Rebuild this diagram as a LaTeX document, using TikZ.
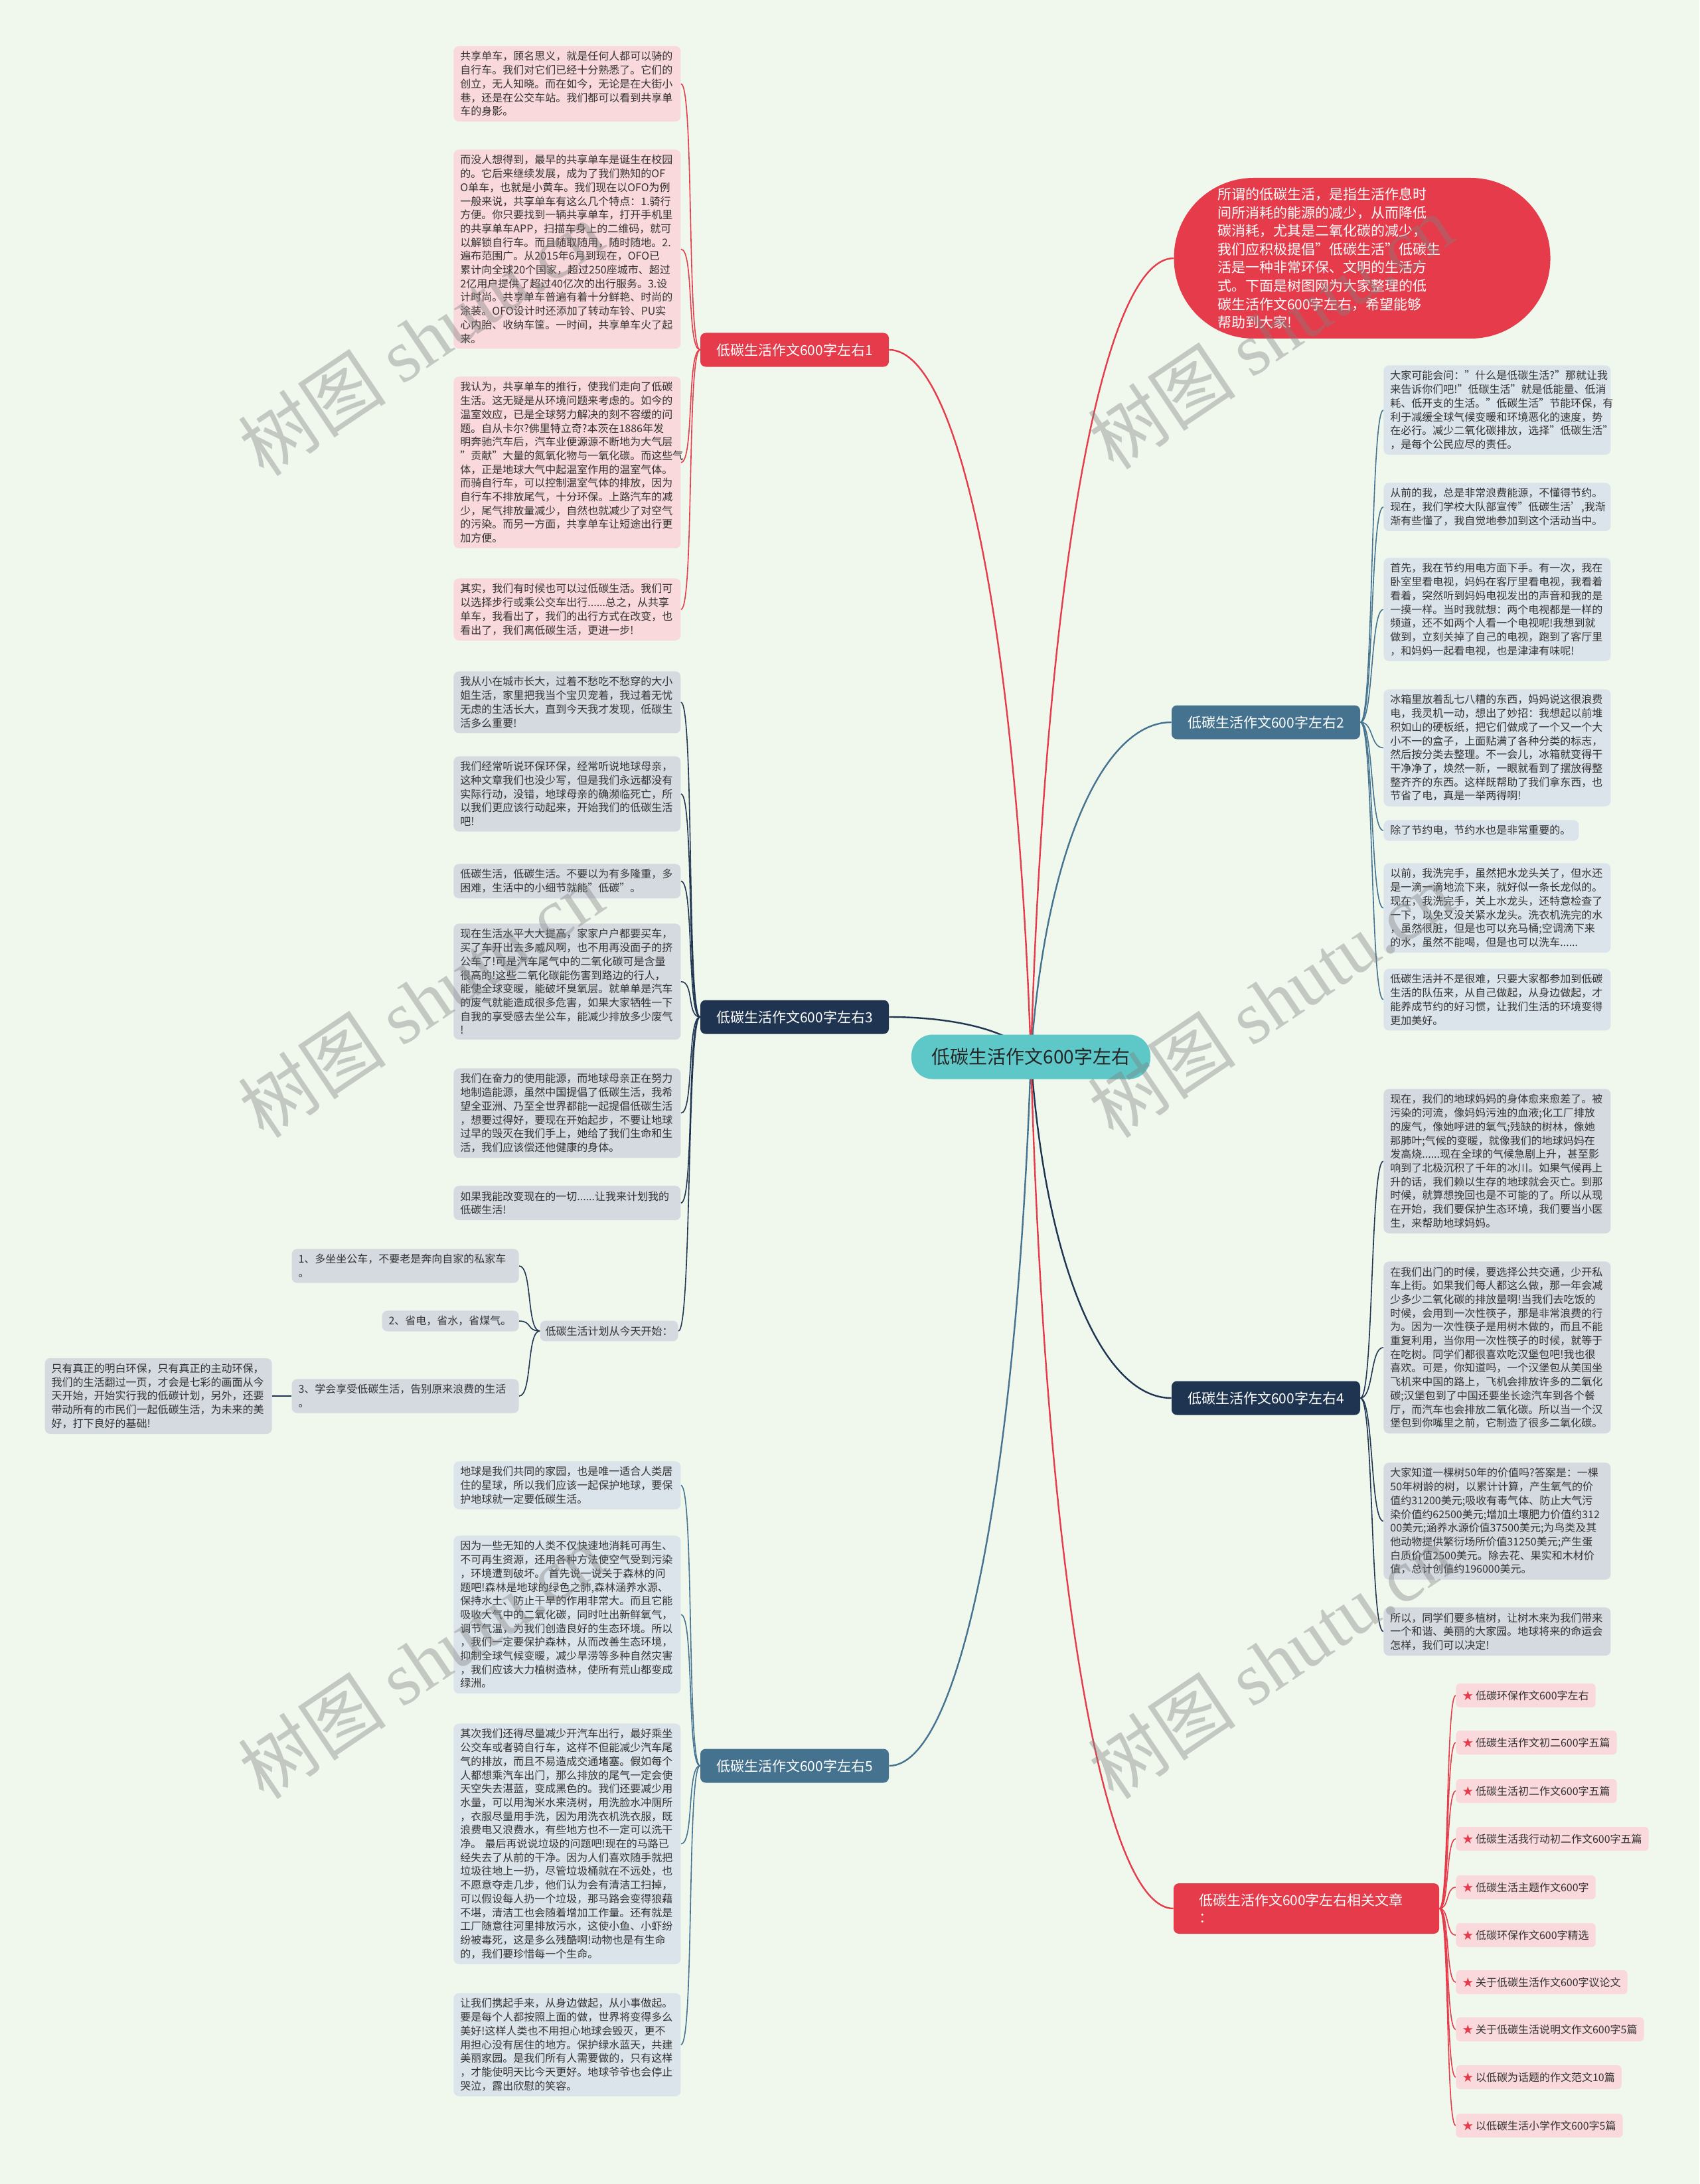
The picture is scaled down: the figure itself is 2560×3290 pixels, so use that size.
\documentclass[tikz,border=0pt]{standalone}
\usepackage{fontspec}
\setmainfont{Noto Sans CJK SC}
\newfontfamily\wmlatin{Liberation Serif}
\usetikzlibrary{calc,positioning}
\definecolor{mapbg}{HTML}{F0F8EE}
\definecolor{mapred}{HTML}{E63B4A}
\definecolor{mapnavy}{HTML}{1E3450}
\definecolor{mapsteel}{HTML}{44728F}
\definecolor{mapteal}{HTML}{5EC7C7}
\definecolor{boxpink}{HTML}{F9D9DC}
\definecolor{boxgray}{HTML}{D5DAE1}
\definecolor{boxblue}{HTML}{DCE4EB}
\definecolor{boxtext}{HTML}{333333}
\pgfdeclarelayer{under}
\pgfsetlayers{under,main}
\tikzset{
  leaf/.style={rounded corners=4pt, inner xsep=5pt, inner ysep=4pt,
    text width=161pt, align=left, text=boxtext,
    font=\fontsize{8}{10.35}\selectfont},
  leafpink/.style={leaf, fill=boxpink},
  leafgray/.style={leaf, fill=boxgray},
  leafblue/.style={leaf, fill=boxblue},
  branchnode/.style={rounded corners=4pt, minimum width=142pt,
    minimum height=25.5pt, text=white, font=\fontsize{10.5}{13}\selectfont},
  relnode/.style={rounded corners=3pt, fill=boxpink, text=boxtext,
    inner xsep=5pt, minimum height=18pt, anchor=west,
    font=\fontsize{8}{10}\selectfont},
  mainline/.style={line width=1.2pt},
  subline/.style={line width=0.8pt},
  wmark/.style={rotate=34, text=gray, text opacity=0.4,
    font=\fontsize{56}{56}\selectfont},
}
\newcommand{\rootlink}[3]{%
  \draw[#1] let \p1=(#2), \p2=(#3) in
    (\p1) .. controls ({\x1+0.1*(\x2-\x1)},{\y1+0.6*(\y2-\y1)})
    and ({\x2+0.5*(\x1-\x2)},\y2) .. (\p2);}
\newcommand{\redstar}{{\color{mapred}★}\ }

\begin{document}
\begin{tikzpicture}[x=0.5pt, y=-0.5pt]
\useasboundingbox (0,0) rectangle (2560,3290);

% centre and intro
\node[fill=mapteal, rounded corners=16pt, minimum width=180pt, minimum height=33.5pt,
  text=black!85, font=\fontsize{14}{16}\selectfont] (root) at (1553,1592) {低碳生活作文600字左右};
\node[fill=mapred, rounded corners=60pt, minimum width=283.5pt, minimum height=121pt,
  text=white, text width=218pt, align=left, font=\fontsize{10.5}{13.8}\selectfont] (intro) at (2052,389)
  {所谓的低碳生活，是指生活作息时\\间所消耗的能源的减少，从而降低\\碳消耗，尤其是二氧化碳的减少，\\我们应积极提倡"低碳生活"低碳生\\活是一种非常环保、文明的生活方\\式。下面是树图网为大家整理的低\\碳生活作文600字左右，希望能够\\帮助到大家!};

% branches
\node[branchnode, fill=mapred] (b1) at (1197,527) {低碳生活作文600字左右1};
\node[branchnode, fill=mapsteel] (b2) at (1907,1088) {低碳生活作文600字左右2};
\node[branchnode, fill=mapnavy] (b3) at (1197,1532) {低碳生活作文600字左右3};
\node[branchnode, fill=mapnavy] (b4) at (1907,2106) {低碳生活作文600字左右4};
\node[branchnode, fill=mapsteel] (b5) at (1197,2660) {低碳生活作文600字左右5};
\node[branchnode, fill=mapred, text width=162pt, inner xsep=19pt, align=left,
  minimum height=38pt] (b6) at (1968,2875) {低碳生活作文600字左右相关文章\\：};

% branch 1
\node[leafpink, anchor=north west] (c11) at (683,69) {共享单车，顾名思义，就是任何人都可以骑的\\自行车。我们对它们已经十分熟悉了。它们的\\创立，无人知晓。而在如今，无论是在大街小\\巷，还是在公交车站。我们都可以看到共享单\\车的身影。};
\node[leafpink, anchor=north west] (c12) at (683,225) {而没人想得到，最早的共享单车是诞生在校园\\的。它后来继续发展，成为了我们熟知的OF\\O单车，也就是小黄车。我们现在以OFO为例\\一般来说，共享单车有这么几个特点：1.骑行\\方便。你只要找到一辆共享单车，打开手机里\\的共享单车APP，扫描车身上的二维码，就可\\以解锁自行车。而且随取随用，随时随地。2.\\遍布范围广。从2015年6月到现在，OFO已\\累计向全球20个国家，超过250座城市、超过\\2亿用户提供了超过40亿次的出行服务。3.设\\计时尚。共享单车普遍有着十分鲜艳、时尚的\\涂装。OFO设计时还添加了转动车铃、PU实\\心内胎、收纳车筐。一时间，共享单车火了起\\来。};
\node[leafpink, anchor=north west] (c13) at (683,567) {我认为，共享单车的推行，使我们走向了低碳\\生活。这无疑是从环境问题来考虑的。如今的\\温室效应，已是全球努力解决的刻不容缓的问\\题。自从卡尔?佛里特立奇?本茨在1886年发\\明奔驰汽车后，汽车业便源源不断地为大气层\\"贡献"大量的氮氧化物与一氧化碳。而这些气\\体，正是地球大气中起温室作用的温室气体。\\而骑自行车，可以控制温室气体的排放，因为\\自行车不排放尾气，十分环保。上路汽车的减\\少，尾气排放量减少，自然也就减少了对空气\\的污染。而另一方面，共享单车让短途出行更\\加方便。};
\node[leafpink, anchor=north west] (c14) at (683,871) {其实，我们有时候也可以过低碳生活。我们可\\以选择步行或乘公交车出行......总之，从共享\\单车，我看出了，我们的出行方式在改变，也\\看出了，我们离低碳生活，更进一步!};

% branch 3
\node[leafgray, anchor=north west] (c31) at (683,1011) {我从小在城市长大，过着不愁吃不愁穿的大小\\姐生活，家里把我当个宝贝宠着，我过着无忧\\无虑的生活长大，直到今天我才发现，低碳生\\活多么重要!};
\node[leafgray, anchor=north west] (c32) at (683,1139) {我们经常听说环保环保，经常听说地球母亲，\\这种文章我们也没少写，但是我们永远都没有\\实际行动，没错，地球母亲的确濒临死亡，所\\以我们更应该行动起来，开始我们的低碳生活\\吧!};
\node[leafgray, anchor=north west] (c33) at (683,1301) {低碳生活，低碳生活。不要以为有多隆重，多\\困难，生活中的小细节就能"低碳"。};
\node[leafgray, anchor=north west] (c34) at (683,1391) {现在生活水平大大提高，家家户户都要买车，\\买了车开出去多威风啊，也不用再没面子的挤\\公车了!可是汽车尾气中的二氧化碳可是含量\\很高的!这些二氧化碳能伤害到路边的行人，\\能使全球变暖，能破坏臭氧层。就单单是汽车\\的废气就能造成很多危害，如果大家牺牲一下\\自我的享受感去坐公车，能减少排放多少废气\\!};
\node[leafgray, anchor=north west] (c35) at (683,1609) {我们在奋力的使用能源，而地球母亲正在努力\\地制造能源，虽然中国提倡了低碳生活，我希\\望全亚洲、乃至全世界都能一起提倡低碳生活\\，想要过得好，要现在开始起步，不要让地球\\过早的毁灭在我们手上，她给了我们生命和生\\活，我们应该偿还他健康的身体。};
\node[leafgray, anchor=north west] (c36) at (683,1786) {如果我能改变现在的一切......让我来计划我的\\低碳生活!};
\node[leafgray, text width=96pt, inner xsep=4pt, anchor=east] (plan) at (1022,2005) {低碳生活计划从今天开始：};
\node[leafgray, anchor=east] (p1) at (782,1907) {1、多坐坐公车，不要老是奔向自家的私家车\\。};
\node[leafgray, text width=93pt, anchor=east] (p2) at (782,1990) {2、省电，省水，省煤气。};
\node[leafgray, anchor=east] (p3) at (782,2103) {3、学会享受低碳生活，告别原来浪费的生活\\。};
\node[leafgray, anchor=east] (tip) at (410,2103) {只有真正的明白环保，只有真正的主动环保，\\我们的生活翻过一页，才会是七彩的画面从今\\天开始，开始实行我的低碳计划，另外，还要\\带动所有的市民们一起低碳生活，为未来的美\\好，打下良好的基础!};

% branch 5
\node[leafblue, anchor=north west] (c51) at (683,2201) {地球是我们共同的家园，也是唯一适合人类居\\住的星球，所以我们应该一起保护地球，要保\\护地球就一定要低碳生活。};
\node[leafblue, anchor=north west] (c52) at (683,2313) {因为一些无知的人类不仅快速地消耗可再生、\\不可再生资源，还用各种方法使空气受到污染\\，环境遭到破坏。 首先说一说关于森林的问\\题吧!森林是地球的绿色之肺,森林涵养水源、\\保持水土、防止干旱的作用非常大。而且它能\\吸收大气中的二氧化碳，同时吐出新鲜氧气，\\调节气温，为我们创造良好的生态环境。所以\\，我们一定要保护森林，从而改善生态环境，\\抑制全球气候变暖，减少旱涝等多种自然灾害\\，我们应该大力植树造林，使所有荒山都变成\\绿洲。};
\node[leafblue, anchor=north west] (c53) at (683,2596) {其次我们还得尽量减少开汽车出行，最好乘坐\\公交车或者骑自行车，这样不但能减少汽车尾\\气的排放，而且不易造成交通堵塞。假如每个\\人都想乘汽车出门，那么排放的尾气一定会使\\天空失去湛蓝，变成黑色的。我们还要减少用\\水量，可以用淘米水来浇树，用洗脸水冲厕所\\，衣服尽量用手洗，因为用洗衣机洗衣服，既\\浪费电又浪费水，有些地方也不一定可以洗干\\净。 最后再说说垃圾的问题吧!现在的马路已\\经失去了从前的干净。因为人们喜欢随手就把\\垃圾往地上一扔，尽管垃圾桶就在不远处，也\\不愿意夺走几步，他们认为会有清洁工扫掉，\\可以假设每人扔一个垃圾，那马路会变得狼藉\\不堪，清洁工也会随着增加工作量。还有就是\\工厂随意往河里排放污水，这使小鱼、小虾纷\\纷被毒死，这是多么残酷啊!动物也是有生命\\的，我们要珍惜每一个生命。};
\node[leafblue, anchor=north west] (c54) at (683,3002) {让我们携起手来，从身边做起，从小事做起。\\要是每个人都按照上面的做，世界将变得多么\\美好!这样人类也不用担心地球会毁灭，更不\\用担心没有居住的地方。保护绿水蓝天，共建\\美丽家园。是我们所有人需要做的，只有这样\\，才能使明天比今天更好。地球爷爷也会停止\\哭泣，露出欣慰的笑容。};

% branch 2
\node[leafblue, anchor=north west] (r21) at (2084,550) {大家可能会问："什么是低碳生活?"那就让我\\来告诉你们吧!"低碳生活"就是低能量、低消\\耗、低开支的生活。"低碳生活"节能环保，有\\利于减缓全球气候变暖和环境恶化的速度，势\\在必行。减少二氧化碳排放，选择"低碳生活"\\，是每个公民应尽的责任。};
\node[leafblue, anchor=north west] (r22) at (2084,727) {从前的我，总是非常浪费能源，不懂得节约。\\现在，我们学校大队部宣传"低碳生活’,我渐\\渐有些懂了，我自觉地参加到这个活动当中。};
\node[leafblue, anchor=north west] (r23) at (2084,840) {首先，我在节约用电方面下手。有一次，我在\\卧室里看电视，妈妈在客厅里看电视，我看着\\看着，突然听到妈妈电视发出的声音和我的是\\一摸一样。当时我就想：两个电视都是一样的\\频道，还不如两个人看一个电视呢!我想到就\\做到，立刻关掉了自己的电视，跑到了客厅里\\，和妈妈一起看电视，也是津津有味呢!};
\node[leafblue, anchor=north west] (r24) at (2084,1038) {冰箱里放着乱七八糟的东西，妈妈说这很浪费\\电，我灵机一动，想出了妙招：我想起以前堆\\积如山的硬板纸，把它们做成了一个又一个大\\小不一的盒子，上面贴满了各种分类的标志，\\然后按分类去整理。不一会儿，冰箱就变得干\\干净净了，焕然一新，一眼就看到了摆放得整\\整齐齐的东西。这样既帮助了我们拿东西，也\\节省了电，真是一举两得啊!};
\node[leafblue, text width=137pt, anchor=north west] (r25) at (2084,1235) {除了节约电，节约水也是非常重要的。};
\node[leafblue, anchor=north west] (r26) at (2084,1300) {以前，我洗完手，虽然把水龙头关了，但水还\\是一滴一滴地流下来，就好似一条长龙似的。\\现在，我洗完手，关上水龙头，还特意检查了\\一下，以免又没关紧水龙头。洗衣机洗完的水\\，虽然很脏，但是也可以充马桶;空调滴下来\\的水，虽然不能喝，但是也可以洗车......};
\node[leafblue, anchor=north west] (r27) at (2084,1459) {低碳生活并不是很难，只要大家都参加到低碳\\生活的队伍来，从自己做起，从身边做起，才\\能养成节约的好习惯，让我们生活的环境变得\\更加美好。};

% branch 4
\node[leafgray, anchor=north west] (r41) at (2084,1640) {现在，我们的地球妈妈的身体愈来愈差了。被\\污染的河流，像妈妈污浊的血液;化工厂排放\\的废气，像她呼进的氧气;残缺的树林，像她\\那肺叶;气候的变暖，就像我们的地球妈妈在\\发高烧......现在全球的气候急剧上升，甚至影\\响到了北极沉积了千年的冰川。如果气候再上\\升的话，我们赖以生存的地球就会灭亡。到那\\时候，就算想挽回也是不可能的了。所以从现\\在开始，我们要保护生态环境，我们要当小医\\生，来帮助地球妈妈。};
\node[leafgray, anchor=north west] (r42) at (2084,1900) {在我们出门的时候，要选择公共交通，少开私\\车上街。如果我们每人都这么做，那一年会减\\少多少二氧化碳的排放量啊!当我们去吃饭的\\时候，会用到一次性筷子，那是非常浪费的行\\为。因为一次性筷子是用树木做的，而且不能\\重复利用，当你用一次性筷子的时候，就等于\\在吃树。同学们都很喜欢吃汉堡包吧!我也很\\喜欢。可是，你知道吗，一个汉堡包从美国坐\\飞机来中国的路上，飞机会排放许多的二氧化\\碳;汉堡包到了中国还要坐长途汽车到各个餐\\厅，而汽车也会排放二氧化碳。所以当一个汉\\堡包到你嘴里之前，它制造了很多二氧化碳。};
\node[leafgray, anchor=north west] (r43) at (2084,2203) {大家知道一棵树50年的价值吗?答案是：一棵\\50年树龄的树，以累计计算，产生氧气的价\\值约31200美元;吸收有毒气体、防止大气污\\染价值约62500美元;增加土壤肥力价值约312\\00美元;涵养水源价值37500美元;为鸟类及其\\他动物提供繁衍场所价值31250美元;产生蛋\\白质价值2500美元。除去花、果实和木材价\\值，总计创值约196000美元。};
\node[leafgray, anchor=north west] (r44) at (2084,2421) {所以，同学们要多植树，让树木来为我们带来\\一个和谐、美丽的大家园。地球将来的命运会\\怎样，我们可以决定!};

% branch 6
\node[relnode] (rel1) at (2193,2554) {\redstar 低碳环保作文600字左右};
\node[relnode] (rel2) at (2193,2625) {\redstar 低碳生活作文初二600字五篇};
\node[relnode] (rel3) at (2193,2698) {\redstar 低碳生活初二作文600字五篇};
\node[relnode] (rel4) at (2193,2770) {\redstar 低碳生活我行动初二作文600字五篇};
\node[relnode] (rel5) at (2193,2843) {\redstar 低碳生活主题作文600字};
\node[relnode] (rel6) at (2193,2915) {\redstar 低碳环保作文600字精选};
\node[relnode] (rel7) at (2193,2986) {\redstar 关于低碳生活作文600字议论文};
\node[relnode] (rel8) at (2193,3057) {\redstar 关于低碳生活说明文作文600字5篇};
\node[relnode] (rel9) at (2193,3129) {\redstar 以低碳为话题的作文范文10篇};
\node[relnode] (rel10) at (2193,3202) {\redstar 以低碳生活小学作文600字5篇};

\begin{pgfonlayer}{under}
\fill[mapbg] (0,0) rectangle (2560,3290);
% root to branches
\rootlink{mainline, draw=mapred}{root.center}{intro.west}
\rootlink{mainline, draw=mapred}{root.center}{b1.east}
\rootlink{mainline, draw=mapsteel}{root.center}{b2.west}
\rootlink{mainline, draw=mapnavy}{root.center}{b3.east}
\rootlink{mainline, draw=mapnavy}{root.center}{b4.west}
\rootlink{mainline, draw=mapsteel}{root.center}{b5.east}
\rootlink{mainline, draw=mapred}{root.center}{b6.west}
% branches to leaves
\foreach \c in {c11,c12,c13,c14}
  \draw[subline, mapred] (b1.west) .. controls +(-20,0) and +(20,0) .. (\c.east);
\foreach \c in {c31,c32,c33,c34,c35,c36,plan}
  \draw[subline, mapnavy] (b3.west) .. controls +(-20,0) and +(20,0) .. (\c.east);
\foreach \c in {p1,p2,p3}
  \draw[subline, mapnavy] (plan.west) .. controls +(-20,0) and +(20,0) .. (\c.east);
\draw[subline, mapnavy] (p3.west) -- (tip.east);
\foreach \c in {c51,c52,c53,c54}
  \draw[subline, mapsteel] (b5.west) .. controls +(-20,0) and +(20,0) .. (\c.east);
\foreach \c in {r21,r22,r23,r24,r25,r26,r27}
  \draw[subline, mapsteel] (b2.east) .. controls +(20,0) and +(-20,0) .. (\c.west);
\foreach \c in {r41,r42,r43,r44}
  \draw[subline, mapnavy] (b4.east) .. controls +(20,0) and +(-20,0) .. (\c.west);
\foreach \c in {rel1,rel2,rel3,rel4,rel5,rel6,rel7,rel8,rel9,rel10}
  \draw[subline, mapred] (b6.east) .. controls +(15,0) and +(-15,0) .. (\c.west);
\end{pgfonlayer}

% watermarks
\node[wmark] (w1) at (634,510) {树图 {\wmlatin shutu.cn}};
\node[wmark] (w2) at (1914,500) {树图 {\wmlatin shutu.cn}};
\node[wmark] (w3) at (634,1507) {树图 {\wmlatin shutu.cn}};
\node[wmark] (w4) at (1914,1507) {树图 {\wmlatin shutu.cn}};
\node[wmark] (w5) at (634,2503) {树图 {\wmlatin shutu.cn}};
\node[wmark] (w6) at (1914,2503) {树图 {\wmlatin shutu.cn}};
\end{tikzpicture}
\end{document}
